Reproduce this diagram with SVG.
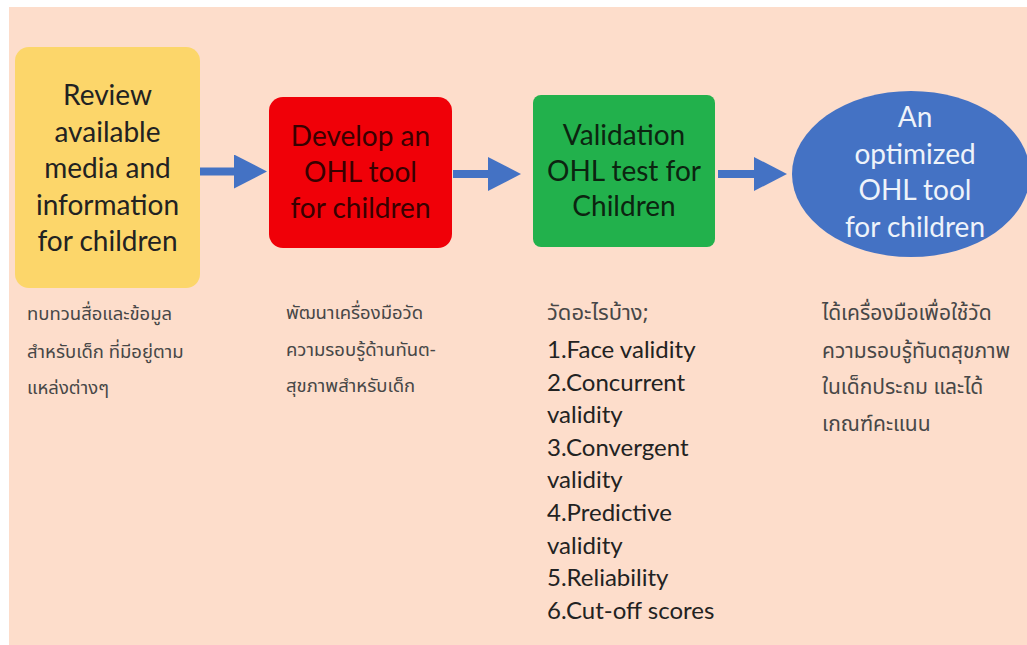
<svg xmlns="http://www.w3.org/2000/svg" width="1027" height="645" viewBox="0 0 1027 645">
<defs>
<marker id="ah" markerUnits="userSpaceOnUse" markerWidth="33" markerHeight="34" viewBox="0 0 33 34" refX="1" refY="17" orient="auto">
<path d="M0,0 L33,17 L0,34 z" fill="#4472C4"/>
</marker>
<style>
.box{font-family:Lato,"Open Sans",sans-serif;font-size:28px;text-anchor:middle}
.th{font-family:"Noto Sans Thai","Noto Sans","DejaVu Sans",sans-serif;font-size:18.5px;fill:#474747}
.lst{font-family:Lato,"Open Sans",sans-serif;font-size:24px;fill:#222}
.conn{stroke:#4472C4;stroke-width:8;fill:none}
</style>
</defs>
<rect x="0" y="0" width="1027" height="645" fill="#ffffff"/>
<rect x="9" y="7" width="1018" height="638" fill="#FDDDCB"/>

<g id="review">
<rect x="15" y="47" width="185" height="241" rx="14" fill="#FCD66A"/>
<text class="box" fill="#222222"><tspan x="107.5" y="105">Review</tspan><tspan x="107.5" y="141.5">available</tspan><tspan x="107.5" y="178">media and</tspan><tspan x="107.5" y="214.5">information</tspan><tspan x="107.5" y="251">for children</tspan></text>
</g>

<g id="develop">
<rect x="269" y="97" width="183" height="151" rx="14" fill="#F00008"/>
<text class="box" fill="#380000"><tspan x="360.5" y="146">Develop an</tspan><tspan x="360.5" y="182">OHL tool</tspan><tspan x="360.5" y="218">for children</tspan></text>
</g>

<g id="validation">
<rect x="533" y="95" width="182" height="152" rx="8" fill="#22B14C"/>
<text class="box" fill="#0c2410"><tspan x="624" y="145">Validation</tspan><tspan x="624" y="181">OHL test for</tspan><tspan x="624" y="216">Children</tspan></text>
</g>

<g id="optimized">
<ellipse cx="911" cy="174" rx="119" ry="83" fill="#4472C4"/>
<text class="box" fill="#EEF3FA"><tspan x="915" y="127">An</tspan><tspan x="915" y="164">optimized</tspan><tspan x="915" y="200">OHL tool</tspan><tspan x="915" y="237">for children</tspan></text>
</g>

<g id="connectors">
<line class="conn" x1="200" y1="171.5" x2="235" y2="171.5" marker-end="url(#ah)"/>
<line class="conn" x1="453" y1="174" x2="489" y2="174" marker-end="url(#ah)"/>
<line class="conn" x1="718" y1="174" x2="755" y2="174" marker-end="url(#ah)"/>
</g>

<g id="note-review">
<text class="th"><tspan x="27" y="320">ทบทวนสื่อและข้อมูล</tspan><tspan x="27" y="358">สำหรับเด็ก ที่มีอยู่ตาม</tspan><tspan x="27" y="394">แหล่งต่างๆ</tspan></text>
</g>

<g id="note-develop">
<text class="th"><tspan x="286" y="319">พัฒนาเครื่องมือวัด</tspan><tspan x="286" y="356">ความรอบรู้ด้านทันต-</tspan><tspan x="286" y="392">สุขภาพสำหรับเด็ก</tspan></text>
</g>

<g id="note-validation">
<text class="th" x="547" y="320" style="font-size:22px">วัดอะไรบ้าง;</text>
<text class="lst"><tspan x="547" y="358">1.Face validity</tspan><tspan x="547" y="391">2.Concurrent</tspan><tspan x="547" y="423">validity</tspan><tspan x="547" y="456">3.Convergent</tspan><tspan x="547" y="488">validity</tspan><tspan x="547" y="521">4.Predictive</tspan><tspan x="547" y="554">validity</tspan><tspan x="547" y="586">5.Reliability</tspan><tspan x="547" y="619">6.Cut-off scores</tspan></text>
</g>

<g id="note-optimized">
<text class="th" style="font-size:21px"><tspan x="822" y="320">ได้เครื่องมือเพื่อใช้วัด</tspan><tspan x="822" y="358">ความรอบรู้ทันตสุขภาพ</tspan><tspan x="822" y="394">ในเด็กประถม และได้</tspan><tspan x="822" y="431">เกณฑ์คะแนน</tspan></text>
</g>
</svg>
